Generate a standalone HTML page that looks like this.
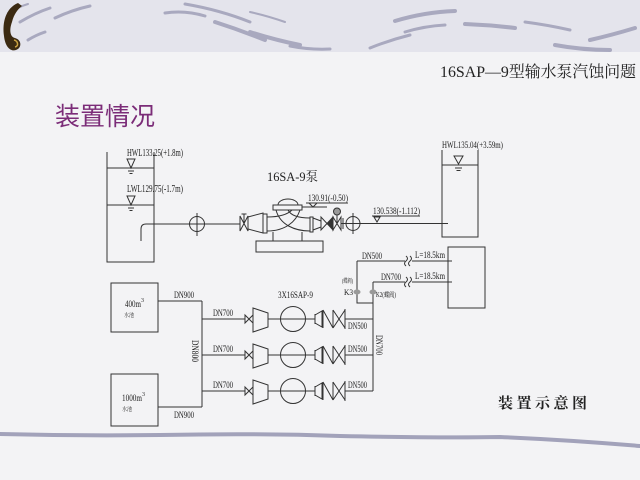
<!DOCTYPE html>
<html>
<head>
<meta charset="utf-8">
<style>
html,body{margin:0;padding:0;background:#f3f3f5;}
svg{display:block;}
.t{font-family:"Liberation Serif","Noto Serif CJK SC",serif;fill:#222;}
.c{font-family:"Liberation Serif","Noto Sans CJK SC",sans-serif;fill:#222;}
</style>
</head>
<body>
<svg width="640" height="480" viewBox="0 0 640 480" xmlns="http://www.w3.org/2000/svg">
<!-- background -->
<rect x="0" y="0" width="640" height="480" fill="#f3f3f5"/>
<rect x="0" y="0" width="640" height="52" fill="#e4e4ec"/>
<!-- header brush strokes -->
<g stroke="#a9a9bf" stroke-linecap="round" fill="none">
<path d="M8,13 Q18,7 28,4" stroke-width="2"/>
<path d="M20,22 Q35,13 50,8" stroke-width="3"/>
<path d="M55,18 Q72,10 90,6" stroke-width="3"/>
<path d="M28,40 Q36,35 45,32" stroke-width="3"/>
<path d="M165,13 Q185,10 205,16" stroke-width="3"/>
<path d="M185,4 Q220,10 250,22" stroke-width="3"/>
<path d="M215,22 Q240,30 265,40" stroke-width="4"/>
<path d="M250,32 Q275,40 300,45" stroke-width="4"/>
<path d="M290,46 Q310,50 330,49" stroke-width="3"/>
<path d="M250,12 Q268,16 285,22" stroke-width="2"/>
<path d="M370,48 Q390,40 410,35" stroke-width="3"/>
<path d="M395,21 Q425,12 455,11" stroke-width="4"/>
<path d="M405,32 Q425,26 445,25" stroke-width="3"/>
<path d="M465,24 Q490,25 515,28" stroke-width="4"/>
<path d="M525,22 Q548,25 570,30" stroke-width="3"/>
<path d="M555,45 Q582,50 610,50" stroke-width="4"/>
<path d="M590,40 Q612,35 635,28" stroke-width="4"/>
</g>
<!-- emblem -->
<path d="M18,3 C6,8 2,22 4,36 C5,46 10,52 16,50 C22,48 22,40 15,38 C10,37 9,30 12,22 C14,14 18,9 22,6 Z" fill="#3b2a12"/>
<path d="M14,40 C18,41 19,46 15,47" stroke="#c8a040" stroke-width="1.5" fill="none"/>
<!-- bottom brush stroke -->
<path d="M0,434 Q80,436 160,435 Q260,433 340,436 Q440,438 500,437 Q570,440 640,446" stroke="#a2a2ba" stroke-width="4" fill="none" stroke-linecap="round"/>

<!-- header title -->
<text x="440" y="77" class="t" font-size="16" textLength="196" lengthAdjust="spacingAndGlyphs" fill="#333">16SAP—9型输水泵汽蚀问题</text>
<!-- main title -->
<text x="55" y="125" font-family="Liberation Sans,'Noto Sans CJK SC',sans-serif" font-size="25" fill="#7b2c78" textLength="100" lengthAdjust="spacingAndGlyphs">装置情况</text>
<!-- caption -->
<text x="498" y="408" font-family="'Noto Serif CJK SC','Noto Sans CJK SC',serif" font-weight="bold" font-size="15" fill="#222" textLength="89" lengthAdjust="spacing">装置示意图</text>

<g stroke="#333" stroke-width="1" fill="none">
<!-- left tank -->
<path d="M107,152 V262 H154 V152"/>
<line x1="107" y1="168" x2="154" y2="168"/>
<path d="M127,159 H135 L131,168 Z"/>
<line x1="128" y1="171" x2="134" y2="171"/>
<line x1="129.5" y1="173.5" x2="132.5" y2="173.5"/>
<line x1="107" y1="205" x2="154" y2="205"/>
<path d="M127,196 H135 L131,205 Z"/>
<line x1="128" y1="208" x2="134" y2="208"/>
<line x1="129.5" y1="210.5" x2="132.5" y2="210.5"/>
<!-- inlet pipe -->
<path d="M141,241 V229 Q141,224 146,224 H240"/>
<circle cx="197" cy="224" r="7.5"/>
<line x1="197" y1="213" x2="197" y2="236"/>
<!-- inlet valve -->
<path d="M240,216 L248,231 L248,216 L240,231 Z"/>
<line x1="244" y1="223.5" x2="244" y2="214"/>
<line x1="241.5" y1="214" x2="246.5" y2="214"/>
<!-- reducer -->
<path d="M248,217 L263,213 L263,233 L248,229 Z"/>
<rect x="263" y="214" width="4" height="19"/>
<!-- pump body -->
<rect x="273" y="205" width="29" height="5"/>
<path d="M278,205 A10,6 0 0 1 298,205"/>
<line x1="302" y1="207" x2="327" y2="207"/>
<path d="M267,217 C280,217 288,214 292,210"/>
<path d="M267,231 C285,231 296,222 300,210"/>
<path d="M276,210 C280,225 295,231 310,231"/>
<path d="M288,210 C291,216 300,218 310,218"/>
<rect x="310" y="217" width="3" height="15"/>
<line x1="273" y1="232" x2="273" y2="241"/>
<line x1="302" y1="232" x2="302" y2="241"/>
<rect x="256" y="241" width="67" height="11"/>
<!-- discharge fittings -->
<path d="M313,218 L321,221 L321,227 L313,230 Z"/>
<path d="M321,217 L321,230 L327,223.5 Z"/>
<path d="M327,223.5 L333,217 L333,230 Z" fill="#333"/>
<path d="M333,217 L341,230 L341,217 L333,230 Z"/>
<line x1="337" y1="223.5" x2="337" y2="215"/>
<circle cx="337" cy="211.5" r="3.5" fill="#999"/>
<line x1="343" y1="218" x2="343" y2="229"/>
<line x1="341" y1="223.5" x2="448" y2="223.5"/>
<circle cx="353" cy="223.5" r="7"/>
<line x1="353" y1="213" x2="353" y2="234"/>
<!-- elevation marks -->
<line x1="306" y1="203" x2="348" y2="203"/>
<path d="M309,203 H317 L313,207 Z"/>
<line x1="372" y1="216" x2="420" y2="216"/>
<path d="M374,217 H380 L377,222 Z"/>
<!-- right tank -->
<path d="M442,150 V237 H478 V150"/>
<line x1="442" y1="165" x2="478" y2="165"/>
<path d="M454,156 H463 L458.5,164 Z"/>
<line x1="455" y1="168" x2="462" y2="168"/>
<line x1="456.5" y1="170.5" x2="460.5" y2="170.5"/>

<!-- lower section -->
<rect x="111" y="283" width="47" height="49"/>
<rect x="111" y="374" width="47" height="52"/>
<line x1="158" y1="301" x2="202" y2="301"/>
<line x1="158" y1="407" x2="202" y2="407"/>
<line x1="202" y1="301" x2="202" y2="407"/>
<line x1="202" y1="319" x2="245" y2="319"/>
<line x1="202" y1="355" x2="245" y2="355"/>
<line x1="202" y1="391" x2="245" y2="391"/>

<!-- pump rows -->
<g id="row1">
<path d="M245,315 L253,323 L253,315 L245,323 Z"/>
<path d="M253,308 L268,313 L268,327 L253,332 Z"/>
<line x1="268" y1="319" x2="315" y2="319"/>
<circle cx="293" cy="319" r="12.5"/>
<line x1="315" y1="314" x2="315" y2="324"/>
<path d="M315,315 L322,311 L322,327 L315,323 Z"/>
<path d="M323,310 V328 M323,310 L333,328 M333,310 V328"/>
<path d="M333,310 L345,328 M333,328 L345,310 M345,309 V329"/>
<line x1="345" y1="319" x2="373" y2="319"/>
</g>
<g transform="translate(0,36)">
<path d="M245,315 L253,323 L253,315 L245,323 Z"/>
<path d="M253,308 L268,313 L268,327 L253,332 Z"/>
<line x1="268" y1="319" x2="315" y2="319"/>
<circle cx="293" cy="319" r="12.5"/>
<line x1="315" y1="314" x2="315" y2="324"/>
<path d="M315,315 L322,311 L322,327 L315,323 Z"/>
<path d="M323,310 V328 M323,310 L333,328 M333,310 V328"/>
<path d="M333,310 L345,328 M333,328 L345,310 M345,309 V329"/>
<line x1="345" y1="319" x2="373" y2="319"/>
</g>
<g transform="translate(0,72)">
<path d="M245,315 L253,323 L253,315 L245,323 Z"/>
<path d="M253,308 L268,313 L268,327 L253,332 Z"/>
<line x1="268" y1="319" x2="315" y2="319"/>
<circle cx="293" cy="319" r="12.5"/>
<line x1="315" y1="314" x2="315" y2="324"/>
<path d="M315,315 L322,311 L322,327 L315,323 Z"/>
<path d="M323,310 V328 M323,310 L333,328 M333,310 V328"/>
<path d="M333,310 L345,328 M333,328 L345,310 M345,309 V329"/>
<line x1="345" y1="319" x2="373" y2="319"/>
</g>

<!-- manifold and outlets -->
<line x1="373" y1="282" x2="373" y2="391"/>
<path d="M357,261 V303 H373"/>
<path d="M357,261 H405 M412,261 H452"/>
<path d="M373,282 H405 M412,282 H452"/>
<path d="M406,266 q-3,-2.5 0,-5 q3,-2.5 0,-5"/>
<path d="M410,266 q-3,-2.5 0,-5 q3,-2.5 0,-5"/>
<path d="M406,287 q-3,-2.5 0,-5 q3,-2.5 0,-5"/>
<path d="M410,287 q-3,-2.5 0,-5 q3,-2.5 0,-5"/>
<rect x="448" y="247" width="37" height="61"/>
</g>
<ellipse cx="357" cy="292" rx="3.5" ry="2.5" fill="#999"/>
<ellipse cx="373" cy="292" rx="3.5" ry="2.5" fill="#999"/>

<!-- labels -->
<g class="t">
<text x="127" y="156" font-size="10" textLength="56" lengthAdjust="spacingAndGlyphs">HWL133.25(+1.8m)</text>
<text x="127" y="192" font-size="10" textLength="56" lengthAdjust="spacingAndGlyphs">LWL129.75(-1.7m)</text>
<text x="267" y="181" font-size="13" textLength="51" lengthAdjust="spacingAndGlyphs">16SA-9泵</text>
<text x="308" y="201" font-size="9" textLength="40" lengthAdjust="spacingAndGlyphs">130.91(-0.50)</text>
<text x="373" y="214" font-size="9" textLength="47" lengthAdjust="spacingAndGlyphs">130.538(-1.112)</text>
<text x="442" y="148" font-size="9" textLength="61" lengthAdjust="spacingAndGlyphs">HWL135.04(+3.59m)</text>

<text x="125" y="307" font-size="9" textLength="16" lengthAdjust="spacingAndGlyphs">400m</text>
<text x="141" y="302" font-size="6">3</text>
<text x="124" y="317" font-size="5.5" textLength="10" lengthAdjust="spacingAndGlyphs">水池</text>
<text x="122" y="401" font-size="9" textLength="20" lengthAdjust="spacingAndGlyphs">1000m</text>
<text x="142" y="396" font-size="6">3</text>
<text x="122" y="411" font-size="5.5" textLength="10" lengthAdjust="spacingAndGlyphs">水池</text>

<text x="174" y="298" font-size="9" textLength="20" lengthAdjust="spacingAndGlyphs">DN900</text>
<text x="174" y="418" font-size="9" textLength="20" lengthAdjust="spacingAndGlyphs">DN900</text>
<text x="0" y="0" font-size="9" textLength="22" lengthAdjust="spacingAndGlyphs" transform="translate(192,340) rotate(90)">DN800</text>
<text x="213" y="316" font-size="9" textLength="20" lengthAdjust="spacingAndGlyphs">DN700</text>
<text x="213" y="352" font-size="9" textLength="20" lengthAdjust="spacingAndGlyphs">DN700</text>
<text x="213" y="388" font-size="9" textLength="20" lengthAdjust="spacingAndGlyphs">DN700</text>

<text x="278" y="298" font-size="9" textLength="35" lengthAdjust="spacingAndGlyphs">3X16SAP-9</text>
<text x="348" y="329" font-size="9" textLength="19" lengthAdjust="spacingAndGlyphs">DN500</text>
<text x="348" y="352" font-size="9" textLength="19" lengthAdjust="spacingAndGlyphs">DN500</text>
<text x="348" y="388" font-size="9" textLength="19" lengthAdjust="spacingAndGlyphs">DN500</text>
<text x="0" y="0" font-size="9" textLength="20" lengthAdjust="spacingAndGlyphs" transform="translate(376,335) rotate(90)">DN700</text>

<text x="362" y="259" font-size="9" textLength="20" lengthAdjust="spacingAndGlyphs">DN500</text>
<text x="415" y="258" font-size="9" textLength="30" lengthAdjust="spacingAndGlyphs">L=18.5km</text>
<text x="381" y="280" font-size="9" textLength="20" lengthAdjust="spacingAndGlyphs">DN700</text>
<text x="415" y="279" font-size="9" textLength="30" lengthAdjust="spacingAndGlyphs">L=18.5km</text>

<text x="342" y="283" font-size="6" textLength="11" lengthAdjust="spacingAndGlyphs">(蝶阀)</text>
<text x="344" y="295" font-size="8" textLength="9" lengthAdjust="spacingAndGlyphs">K3</text>
<text x="376" y="297" font-size="7" textLength="20" lengthAdjust="spacingAndGlyphs">K2(蝶阀)</text>
</g>
</svg>
</body>
</html>
